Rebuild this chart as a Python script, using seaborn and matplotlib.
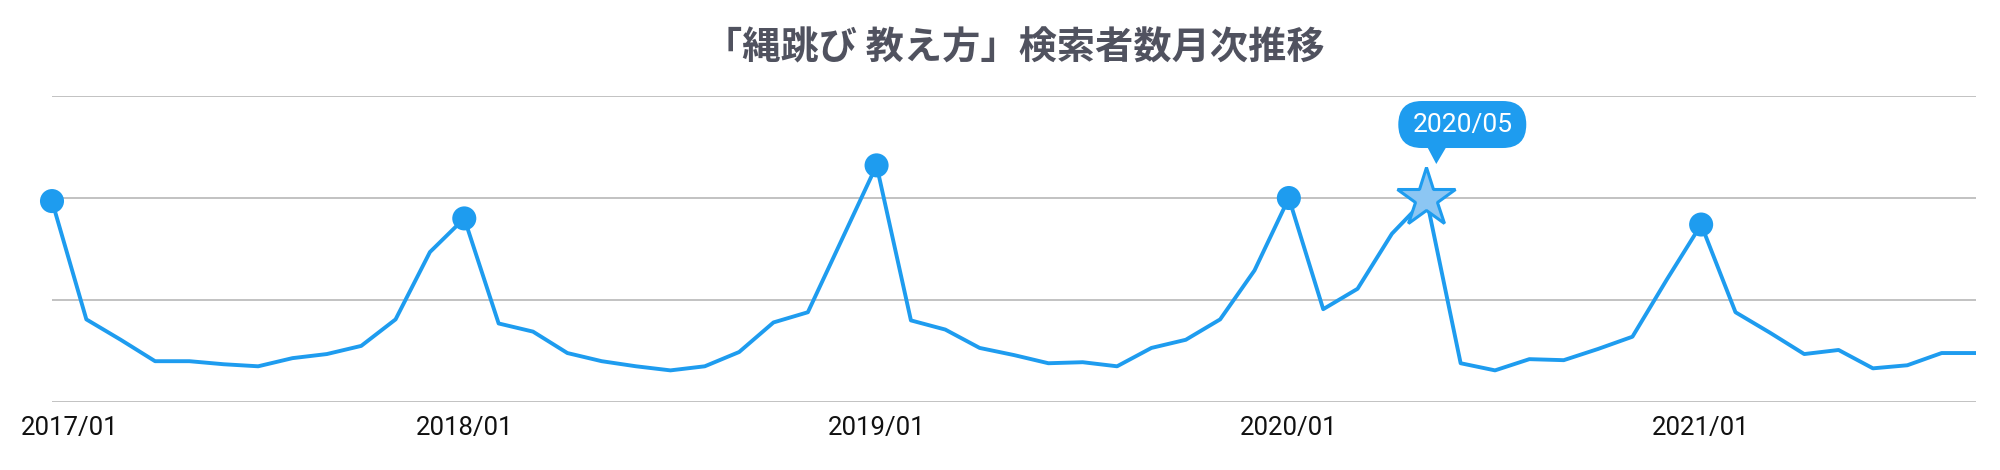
import matplotlib
matplotlib.use('Agg')
import matplotlib.pyplot as plt
import matplotlib.transforms as mtransforms
from matplotlib.patches import FancyBboxPatch, Polygon
import pandas as pd
import seaborn as sns

# monthly search volume index, 2017/01 - 2021/09 (gridline = 100)
months = [f'{y}/{m:02d}' for y in range(2017, 2022) for m in range(1, 13)][:57]
values = [197, 81, 61, 40, 40, 37, 35, 43, 47, 55, 81, 147,
          180, 77, 69, 48, 40, 35, 31, 35, 49, 78, 88, 160,
          232, 80, 71, 53, 46, 38, 39, 35, 53, 61, 81, 129,
          200, 91, 111, 165, 200, 38, 31, 42, 41, 52, 64, 120,
          174, 88, 68, 47, 51, 33, 36, 48, 48]
peak_months = ['2017/01', '2018/01', '2019/01', '2020/01', '2021/01']
star_month = '2020/05'
tick_labels = ['2017/01', '2018/01', '2019/01', '2020/01', '2021/01']
title = '「縄跳び 教え方」検索者数月次推移'

df = pd.DataFrame({'month': months, 'value': values})
df['idx'] = range(len(df))
peaks = df[df['month'].isin(peak_months)]
star = df[df['month'] == star_month].iloc[0]

blue = '#1E9CEF'
label_font = ['Roboto', 'DejaVu Sans']

sns.set_style('white')
plt.rcParams['font.family'] = ['Noto Sans CJK JP', 'DejaVu Sans']

fig = plt.figure(figsize=(20, 4.7), dpi=100)
ax = fig.add_axes([0.026, 0.1447, 0.962, 0.651])

sns.lineplot(data=df, x='idx', y='value', color=blue, linewidth=2.8, ax=ax)
dots = sns.scatterplot(data=peaks, x='idx', y='value', color=blue, s=300,
                       edgecolor='none', ax=ax, zorder=3)
for coll in ax.collections:
    coll.set_clip_on(False)
ax.plot(star['idx'], star['value'], marker='*', markersize=44,
        markerfacecolor='#8CC6F3', markeredgecolor=blue, markeredgewidth=2.2,
        zorder=4)

ax.set_xlim(0, len(df) - 1)
ax.set_ylim(0, 300)
ax.set_yticks([0, 100, 200, 300])
ax.set_yticklabels([])
ax.grid(axis='y', color='#BDBDBD', linewidth=1.3)
ax.tick_params(axis='both', length=0)
for s in ax.spines.values():
    s.set_visible(False)

tick_pos = df.loc[df['month'].isin(tick_labels), 'idx'].tolist()
ax.set_xticks(tick_pos)
ax.set_xticklabels(tick_labels, family=label_font, fontsize=18.5,
                   color='#111111')
ax.tick_params(axis='x', pad=10)
ax.set_xlabel('')
ax.set_ylabel('')
# first label sits a bit to the right of its point
first = ax.get_xticklabels()[0]
first.set_transform(first.get_transform() +
                    mtransforms.ScaledTranslation(0.18, 0, fig.dpi_scale_trans))

# callout bubble above the star
trans = fig.dpi_scale_trans + mtransforms.ScaledTranslation(
    star['idx'], star['value'], ax.transData)
bubble = FancyBboxPatch((-0.28, 0.50), 1.28, 0.47,
                        boxstyle='round,pad=0,rounding_size=0.235',
                        transform=trans, facecolor=blue, edgecolor='none',
                        zorder=5, clip_on=False)
ax.add_patch(bubble)
ax.add_patch(Polygon([(0.01, 0.51), (0.20, 0.51), (0.10, 0.34)], closed=True,
                     transform=trans, facecolor=blue, edgecolor='none',
                     zorder=5, clip_on=False))
ax.text(0.36, 0.735, star_month, transform=trans, ha='center', va='center',
        family=label_font, fontsize=19, color='white', zorder=6)

fig.text(0.507, 1 - 48 / 470, title, ha='center', va='center',
         fontsize=27.5, fontweight='bold', color='#50525F')

fig.savefig('out.png', dpi=100)
